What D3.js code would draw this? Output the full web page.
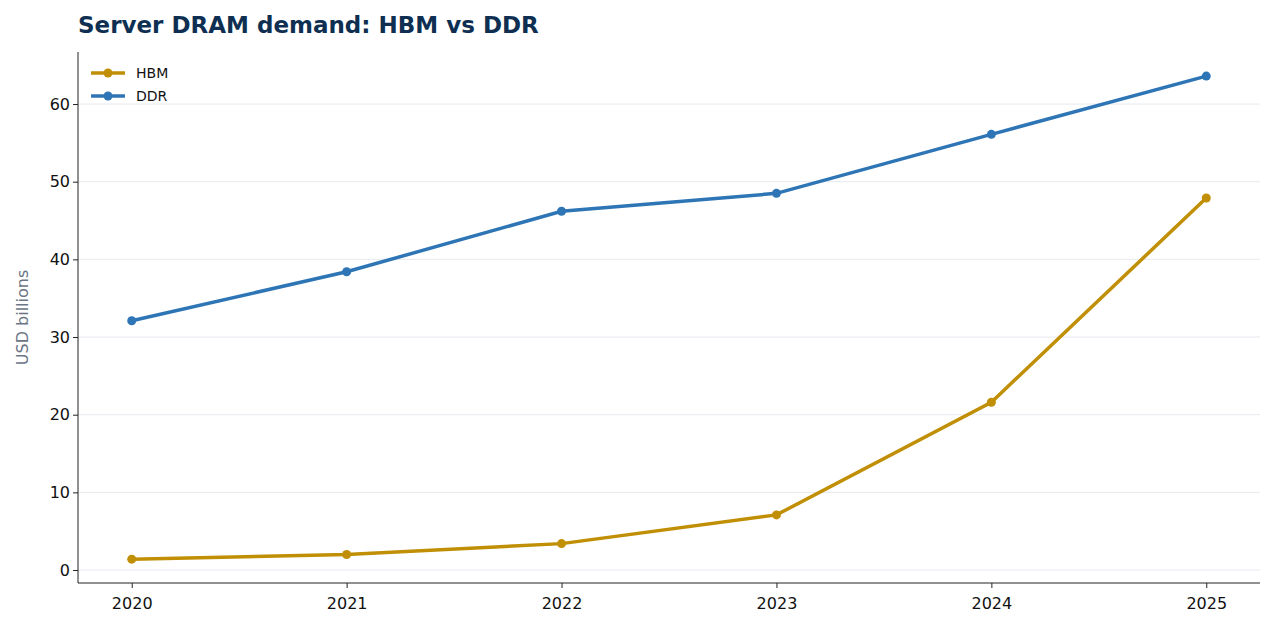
<!DOCTYPE html>
<html><head><meta charset="utf-8">
<script src="https://cdn.jsdelivr.net/npm/d3@7"></script>
<style>body{margin:0;background:#fff;font-family:"DejaVu Sans",sans-serif}</style>
</head><body><svg id="c" width="1273" height="630"></svg>
<script>
const years = [2020, 2021, 2022, 2023, 2024, 2025];
const hbm = [1.4, 2.0, 3.4, 7.1, 21.6, 47.9];
const ddr = [32.1, 38.4, 46.2, 48.5, 56.1, 63.6];
const yTicks = [0, 10, 20, 30, 40, 50, 60];
const series = [{name:"HBM", values:hbm, color:"#C18F05"},{name:"DDR", values:ddr, color:"#2E75B6"}];

const svg = d3.select("#c");
const L=78,R=1260,T=52,B=583;
const x = d3.scaleLinear().domain([2019.75,2025.25]).range([L,R]);
const y = d3.scaleLinear().domain([-1.67,66.7]).range([B,T]);

svg.append("g").selectAll("line").data(yTicks).join("line")
  .attr("x1",L).attr("x2",R).attr("y1",d=>y(d)).attr("y2",d=>y(d))
  .attr("stroke","#e6e9ef").attr("stroke-width",1);

const ya = svg.append("g").attr("transform",`translate(${L},0)`)
  .call(d3.axisLeft(y).tickValues(yTicks).tickSize(5).tickSizeOuter(0));
const xa = svg.append("g").attr("transform",`translate(0,${B})`)
  .call(d3.axisBottom(x).tickValues(years).tickFormat(d3.format("d")).tickSize(5).tickSizeOuter(0));
[ya,xa].forEach(a=>{a.selectAll("text").attr("font-size",16).attr("fill","#111").attr("font-family","DejaVu Sans");a.selectAll("line,path").attr("stroke","#222");});
ya.select(".domain").attr("d",`M0,${B}V${T}`);
xa.select(".domain").attr("d",`M${L},0H${R}`);
xa.selectAll("text").attr("dy","1.1em");

const line = d3.line().x((d,i)=>x(years[i])).y(d=>y(d));
series.forEach(s=>{
  svg.append("path").attr("d",line(s.values)).attr("fill","none").attr("stroke",s.color).attr("stroke-width",3.5);
  svg.append("g").selectAll("circle").data(s.values).join("circle")
    .attr("cx",(d,i)=>x(years[i])).attr("cy",d=>y(d)).attr("r",4.5).attr("fill",s.color);
});

svg.append("text").attr("x",78).attr("y",33).text("Server DRAM demand: HBM vs DDR")
  .attr("font-size",23).attr("font-weight","bold").attr("fill","#0E2F52");
svg.append("text").attr("transform",`translate(28,${(T+B)/2}) rotate(-90)`).attr("text-anchor","middle")
  .text("USD billions").attr("font-size",16).attr("fill","#6b7585");

const lg = svg.append("g");
series.forEach((s,i)=>{
  const yy=73+i*23;
  lg.append("line").attr("x1",91).attr("x2",125).attr("y1",yy).attr("y2",yy).attr("stroke",s.color).attr("stroke-width",3.5);
  lg.append("circle").attr("cx",108).attr("cy",yy).attr("r",4.5).attr("fill",s.color);
  lg.append("text").attr("x",136).attr("y",yy+5).text(s.name).attr("font-size",14).attr("fill","#111");
});
</script></body></html>
